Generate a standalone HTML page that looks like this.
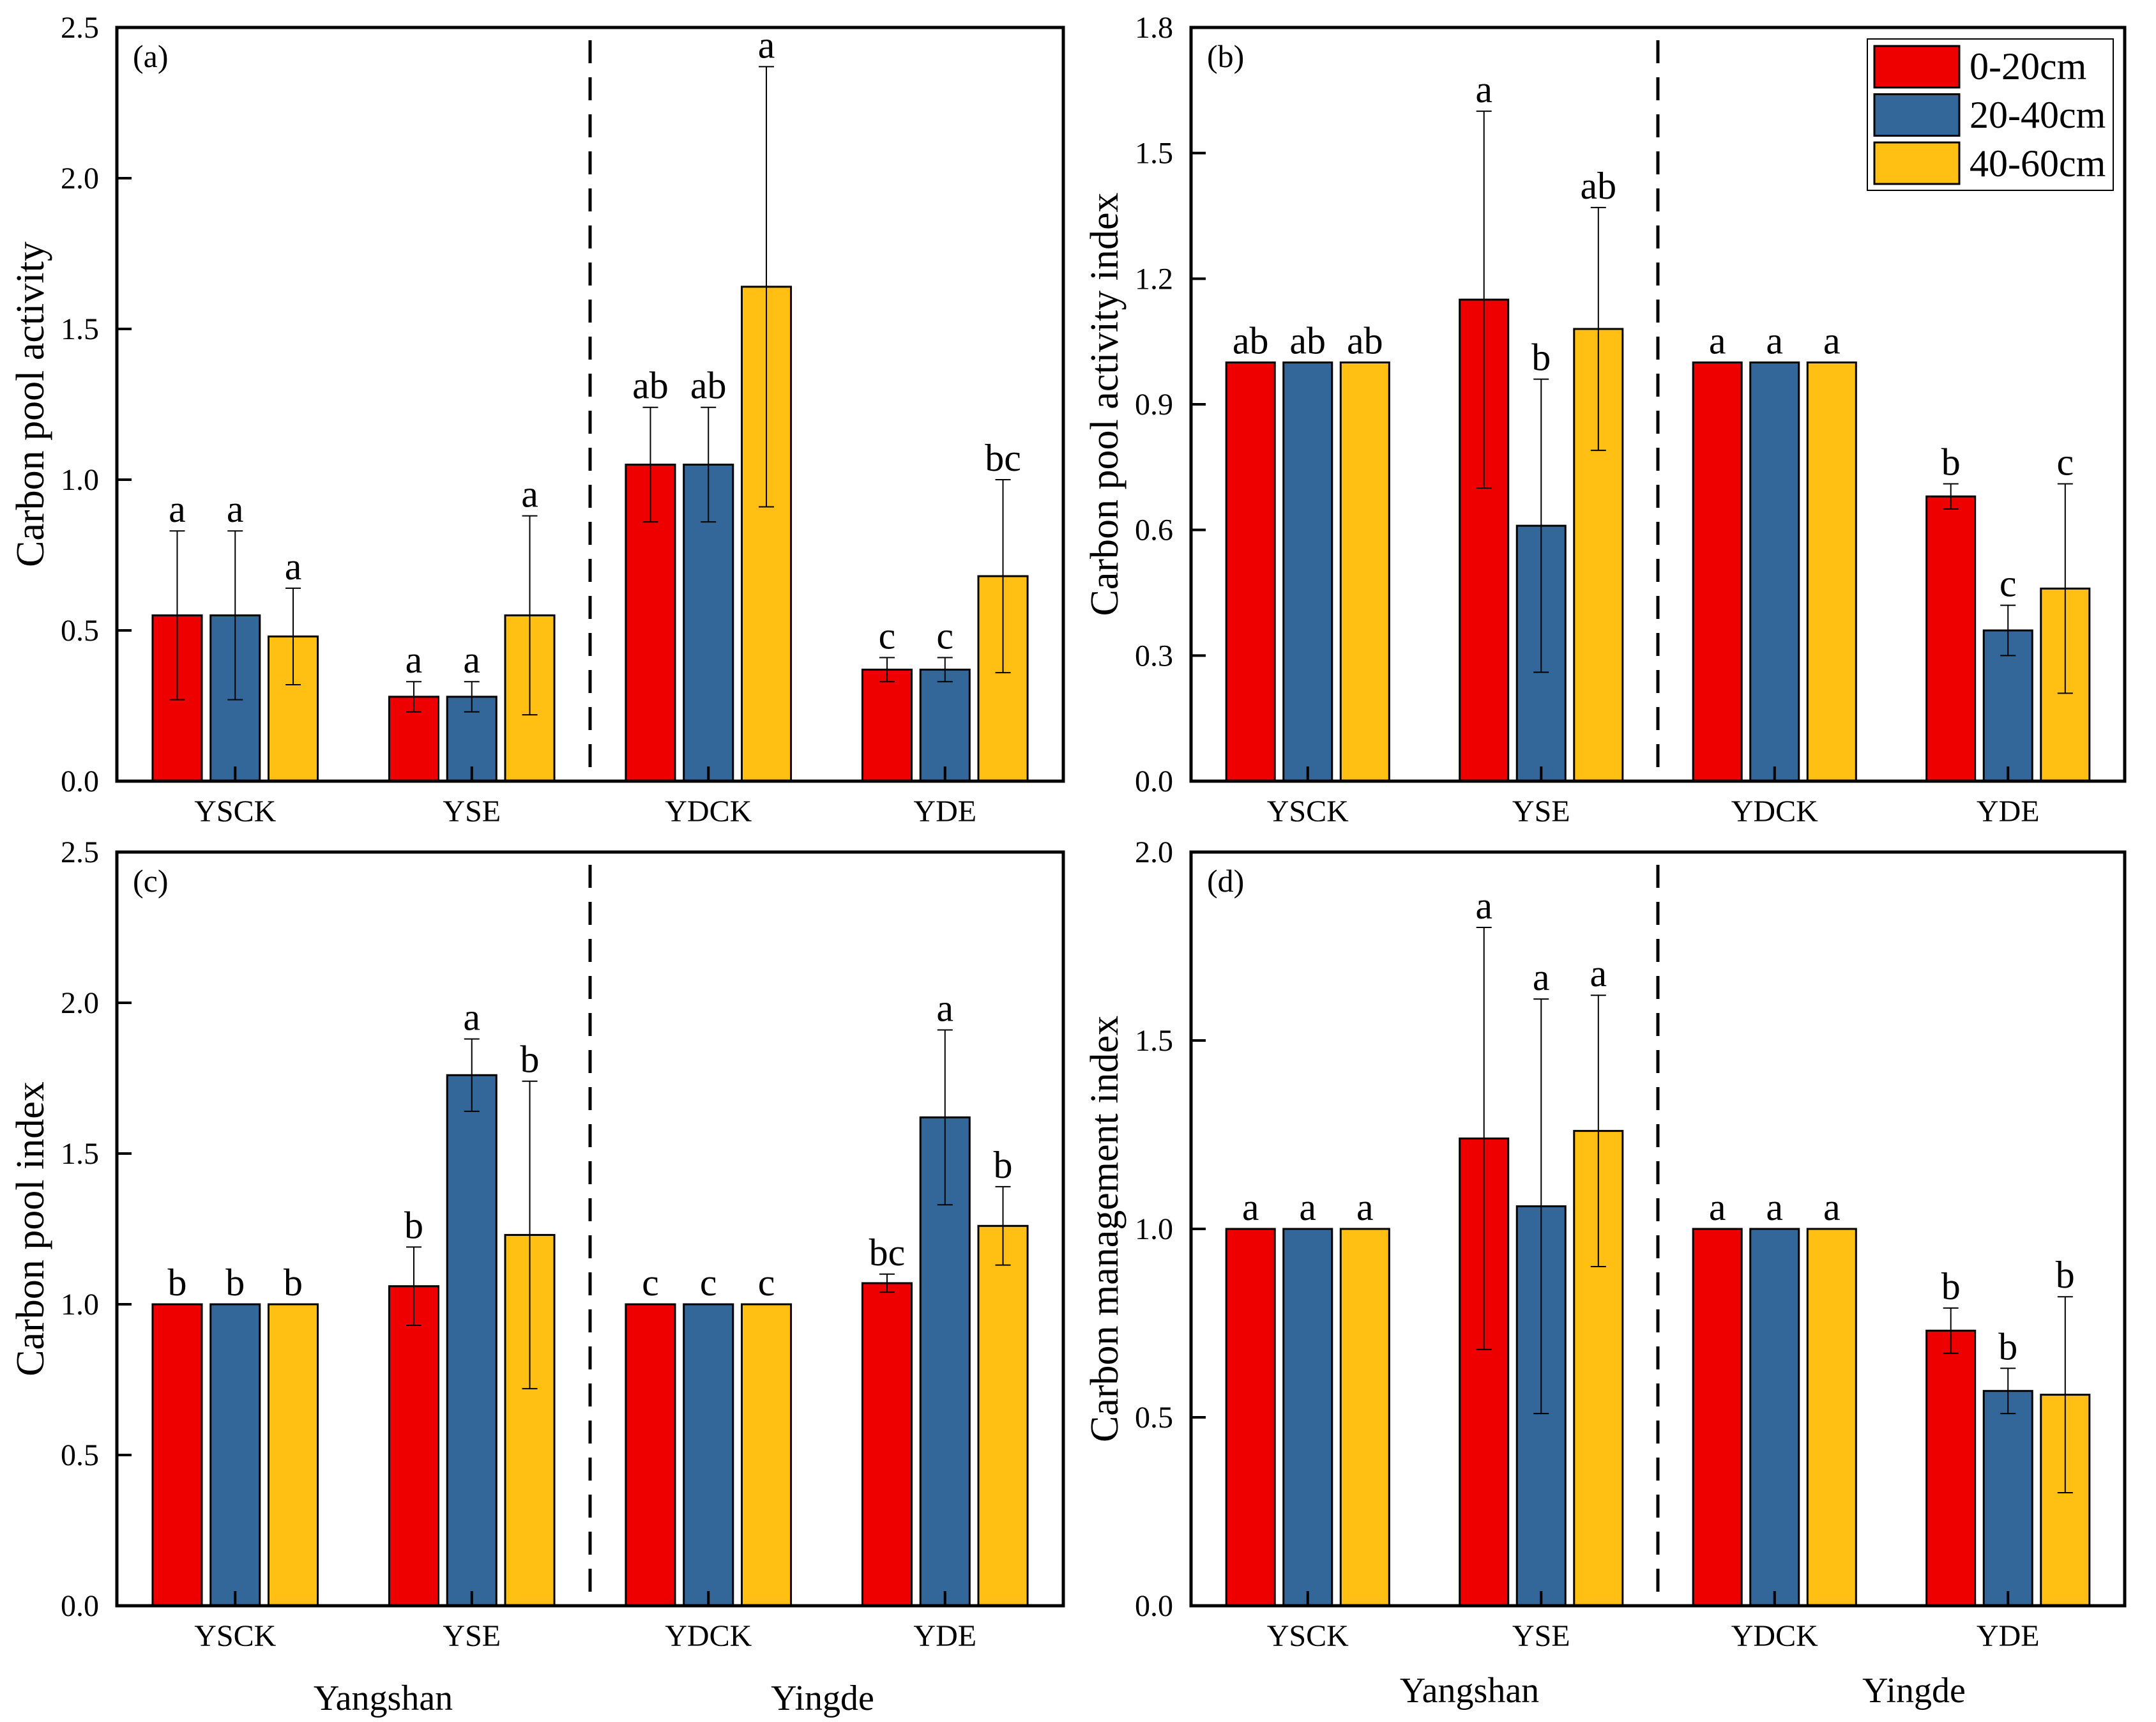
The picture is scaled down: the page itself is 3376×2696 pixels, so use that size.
<!DOCTYPE html>
<html><head><meta charset="utf-8">
<style>
html,body{margin:0;padding:0;background:#fff;}
svg{display:block;font-family:"Liberation Serif","Times New Roman",serif;}
svg text{font-family:"Liberation Serif","Times New Roman",serif;fill:#000;}
</style></head>
<body>
<svg id="fig" font-family="Liberation Serif, serif" width="3376" height="2696" viewBox="0 0 3376 2696" xmlns="http://www.w3.org/2000/svg"></svg>
<script>
const categories = ["YSCK","YSE","YDCK","YDE"];
const seriesNames = ["0-20cm","20-40cm","40-60cm"];
const seriesColors = ["#EE0000","#336699","#FFC013"];

// Panel (a) Carbon pool activity
const aVals  = [[0.55,0.55,0.48],[0.28,0.28,0.55],[1.05,1.05,1.64],[0.37,0.37,0.68]];
const aHi    = [[0.83,0.83,0.64],[0.33,0.33,0.88],[1.24,1.24,2.37],[0.41,0.41,1.00]];
const aLo    = [[0.27,0.27,0.32],[0.23,0.23,0.22],[0.86,0.86,0.91],[0.33,0.33,0.36]];
const aLet   = [["a","a","a"],["a","a","a"],["ab","ab","a"],["c","c","bc"]];
const aTicks = [0,0.5,1.0,1.5,2.0,2.5];

// Panel (b) Carbon pool activity index
const bVals  = [[1,1,1],[1.15,0.61,1.08],[1,1,1],[0.68,0.36,0.46]];
const bHi    = [[1,1,1],[1.60,0.96,1.37],[1,1,1],[0.71,0.42,0.71]];
const bLo    = [[1,1,1],[0.70,0.26,0.79],[1,1,1],[0.65,0.30,0.21]];
const bLet   = [["ab","ab","ab"],["a","b","ab"],["a","a","a"],["b","c","c"]];
const bTicks = [0,0.3,0.6,0.9,1.2,1.5,1.8];

// Panel (c) Carbon pool index
const cVals  = [[1,1,1],[1.06,1.76,1.23],[1,1,1],[1.07,1.62,1.26]];
const cHi    = [[1,1,1],[1.19,1.88,1.74],[1,1,1],[1.10,1.91,1.39]];
const cLo    = [[1,1,1],[0.93,1.64,0.72],[1,1,1],[1.04,1.33,1.13]];
const cLet   = [["b","b","b"],["b","a","b"],["c","c","c"],["bc","a","b"]];
const cTicks = [0,0.5,1.0,1.5,2.0,2.5];

// Panel (d) Carbon management index
const dVals  = [[1,1,1],[1.24,1.06,1.26],[1,1,1],[0.73,0.57,0.56]];
const dHi    = [[1,1,1],[1.80,1.61,1.62],[1,1,1],[0.79,0.63,0.82]];
const dLo    = [[1,1,1],[0.68,0.51,0.90],[1,1,1],[0.67,0.51,0.30]];
const dLet   = [["a","a","a"],["a","a","a"],["a","a","a"],["b","b","b"]];
const dTicks = [0,0.5,1.0,1.5,2.0];

const NS="http://www.w3.org/2000/svg";
const FONT='"Liberation Serif", "Times New Roman", serif';
const svg=document.getElementById('fig');
function mk(tag,attrs,parent,txt){const e=document.createElementNS(NS,tag);for(const k in attrs)e.setAttribute(k,attrs[k]);if(txt!==undefined){e.textContent=txt;e.style.fontFamily=FONT;}(parent||svg).appendChild(e);return e;}

function panel(id,L,R,T,B,ymax,vals,hi,lo,lets,ticks,title,label){
  const g=mk('g',{});
  
  
  const W=R-L;
  const xs=v=>L+(v-0.5)/4*W;
  const ys=v=>B-(v/ymax)*(B-T);
  const unit=W/4, bw=0.208*unit, step=0.245*unit;
  const dl=mk('line',{x1:xs(2.5),x2:xs(2.5),y1:T+20,y2:B,stroke:'#000','stroke-width':5,'stroke-dasharray':'36,22'},g);
  
  
  categories.forEach((cat,i)=>{
    const cx=xs(i+1);
    for(let s=0;s<3;s++){
      const bx=cx+(s-1)*step-bw/2;
      const v=vals[i][s];
      const r=mk('rect',{x:bx,y:ys(v),width:bw,height:B-ys(v),fill:seriesColors[s],stroke:'#000','stroke-width':3},g);
      
      
      const mx=bx+bw/2;
      let top=ys(v);
      if(hi[i][s]!==vals[i][s]||lo[i][s]!==vals[i][s]){
        const eg=mk('g',{stroke:'#000','stroke-width':2},g);
        
        
        mk('line',{x1:mx,x2:mx,y1:ys(hi[i][s]),y2:ys(lo[i][s])},eg);
        mk('line',{x1:mx-12,x2:mx+12,y1:ys(hi[i][s]),y2:ys(hi[i][s])},eg);
        mk('line',{x1:mx-12,x2:mx+12,y1:ys(lo[i][s]),y2:ys(lo[i][s])},eg);
        top=Math.min(top,ys(hi[i][s]));
      }
      const t=mk('text',{x:mx,y:top-14,'font-size':60,'text-anchor':'middle'},g,lets[i][s]);
      
      
    }
    mk('line',{x1:cx,x2:cx,y1:B,y2:B-23,stroke:'#000','stroke-width':4},g);
    const ct=mk('text',{x:cx,y:B+63,'font-size':48,'text-anchor':'middle'},g,cat);
    
    
  });
  ticks.forEach(tv=>{
    const y=ys(tv);
    if(tv>0&&tv<ymax) mk('line',{x1:L,x2:L+23,y1:y,y2:y,stroke:'#000','stroke-width':4},g);
    const tt=mk('text',{x:L-28,y:y+16,'font-size':48,'text-anchor':'end'},g,tv.toFixed(1));
    
    
  });
  const fr=mk('rect',{x:L,y:T,width:W,height:B-T,fill:'none',stroke:'#000','stroke-width':5},g);
  
  
  const pl=mk('text',{x:L+25,y:T+62,'font-size':50},g,label);
  
  
  const yt=mk('text',{x:0,y:0,'font-size':62,'text-anchor':'middle',transform:`translate(${L-115},${(T+B)/2}) rotate(-90)`},g,title);
  
  
}

panel('a',183,1665,43,1223,2.5,aVals,aHi,aLo,aLet,aTicks,'Carbon pool activity','(a)');
panel('b',1865,3327,43,1223,1.8,bVals,bHi,bLo,bLet,bTicks,'Carbon pool activity index','(b)');
panel('c',183,1665,1334,2514,2.5,cVals,cHi,cLo,cLet,cTicks,'Carbon pool index','(c)');
panel('d',1865,3327,1334,2514,2.0,dVals,dHi,dLo,dLet,dTicks,'Carbon management index','(d)');

const lg=mk('g',{});


mk('rect',{x:2924,y:61,width:385,height:237,fill:'#fff',stroke:'#000','stroke-width':2},lg);
seriesNames.forEach((n,s)=>{
  const e=mk('g',{},lg);
  
  
  mk('rect',{x:2935,y:72+s*75.5,width:133,height:65,fill:seriesColors[s],stroke:'#000','stroke-width':3},e);
  mk('text',{x:3084,y:124+s*76,'font-size':60},e,n);
});

[[600,2677,'Yangshan'],[1288,2677,'Yingde'],[2301,2665,'Yangshan'],[2997,2665,'Yingde']].forEach(p=>{
  const t=mk('text',{x:p[0],y:p[1],'font-size':56,'text-anchor':'middle'},svg,p[2]);
  
  
});
</script>
</body></html>
